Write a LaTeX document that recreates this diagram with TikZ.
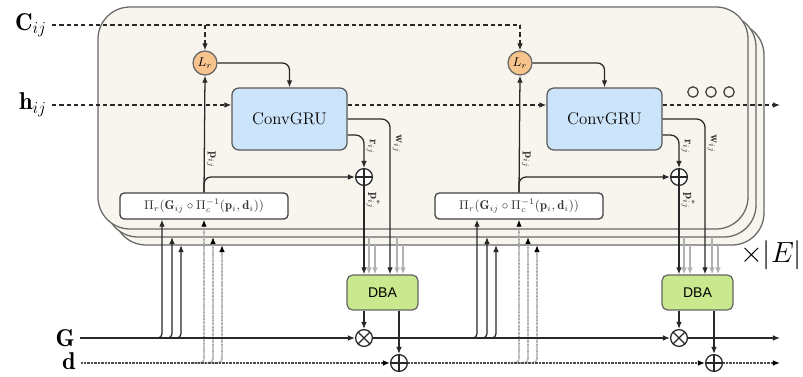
\documentclass[tikz,border=0pt]{standalone}
\usepackage{fontspec}
\usepackage{amsmath}
\usetikzlibrary{arrows.meta}
\newfontfamily\dbafont{Liberation Sans}
\definecolor{panelfill}{RGB}{247,245,237}
\definecolor{paneledge}{RGB}{105,105,105}
\definecolor{lrorange}{RGB}{248,196,142}
\definecolor{grublue}{RGB}{204,228,250}
\definecolor{dbagreen}{RGB}{202,232,142}
\definecolor{linedark}{RGB}{40,40,40}

\begin{document}
\begin{tikzpicture}[x=0.025cm,y=-0.025cm,line width=0.9pt,
  >={Latex[length=5pt,width=4pt]},
  wire/.style={draw=linedark,line width=0.9pt},
  dashwire/.style={wire,dash pattern=on 3pt off 2.2pt},
  dotwire/.style={draw=black!70,line width=1.3pt,dash pattern=on 0.6pt off 0.4pt},
  dbranch/.style={draw=black!35,line width=1.2pt,dash pattern=on 0.6pt off 0.4pt,
    -{Latex[length=5pt,width=4pt,color=black]},rounded corners=3pt},
  ghost/.style={draw=black!30,line width=0.8pt,->},
  panel/.style={draw=paneledge,fill=panelfill,line width=0.9pt,rounded corners=0.8cm},
  grubox/.style={draw=black!65,fill=grublue,rounded corners=5pt,minimum width=2.875cm,
    minimum height=1.55cm,font=\large},
  lrnode/.style={circle,draw=black!60,fill=lrorange,minimum size=0.6cm,inner sep=0pt,font=\small},
  projbox/.style={draw=black!75,fill=white,rounded corners=3pt,minimum width=4.2cm,
    minimum height=0.65cm,inner sep=1pt,font=\small,text=black!80},
  dbabox/.style={draw=black!60,fill=dbagreen,rounded corners=4pt,minimum width=1.775cm,
    minimum height=0.875cm,font=\dbafont},
  opnode/.style={circle,draw=linedark,fill=white,minimum size=0.42cm,inner sep=0pt},
  addop/.style={opnode,path picture={\draw[linedark]
    (path picture bounding box.north) -- (path picture bounding box.south)
    (path picture bounding box.west) -- (path picture bounding box.east);}},
  mulop/.style={opnode,path picture={\draw[linedark]
    (path picture bounding box.north west) -- (path picture bounding box.south east)
    (path picture bounding box.south west) -- (path picture bounding box.north east);}},
  edgelbl/.style={font=\small,rotate=-90,inner sep=1.5pt,anchor=south,text=black!80},
  dotc/.style={circle,draw=black!75,minimum size=0.26cm,inner sep=0pt}]
  \useasboundingbox (0,0) rectangle (803,376);

  % stacked edge panels
  \draw[panel] (114,23) rectangle (764,245);
  \draw[panel] (106,15) rectangle (756,237);
  \draw[panel] (98,7) rectangle (748,229);

  % inputs and outputs
  \node[anchor=east,font=\LARGE] (cij) at (52,25) {$\mathbf{C}_{ij}$};
  \node[anchor=east,font=\LARGE] (hij) at (52,105) {$\mathbf{h}_{ij}$};
  \node[anchor=east,font=\LARGE] (gin) at (80,338) {$\mathbf{G}$};
  \node[anchor=east,font=\LARGE] (din) at (81,361) {$\mathbf{d}$};
  \coordinate (hend) at (780,105);
  \coordinate (gend) at (780,338);
  \coordinate (dend) at (780,363);

  \foreach \i/\dx in {1/0,2/315}{
    \begin{scope}[shift={(\dx,0)}]
      \node[lrnode] (lr\i) at (205,63) {$L_r$};
      \node[grubox] (gru\i) at (289.5,119) {ConvGRU};
      \node[projbox] (proj\i) at (204,206)
        {$\Pi_r(\mathbf{G}_{ij}\circ\Pi_c^{-1}(\mathbf{p}_i,\mathbf{d}_i))$};
      \node[addop] (plus\i) at (364,177) {};
      \node[dbabox] (dba\i) at (382.5,292.5) {DBA};
      \node[mulop] (mul\i) at (364,338) {};
      \node[addop] (add\i) at (399,363) {};

      \draw[dashwire,->] (lr\i |- cij) -- (lr\i);
      \draw[wire,->,rounded corners=5pt] (lr\i) -| (gru\i.north);
      \draw[wire,->] (proj\i.north) -- node[edgelbl,pos=0.28] {$\mathbf{p}_{ij}$} (lr\i.south);
      \draw[wire,->,rounded corners=5pt] (proj\i.north) |- (plus\i.west);
      \draw[wire,->,rounded corners=6pt] ([yshift=-0.4cm]gru\i.east) -|
        node[edgelbl,pos=0.68] {$\mathbf{r}_{ij}$} (plus\i.north);
      \draw[wire,->,rounded corners=6pt] (gru\i.east) -|
        node[edgelbl,pos=0.58] {$\mathbf{w}_{ij}$} (390,0 |- dba\i.north);
      \draw[wire,->] (plus\i.south) --
        node[edgelbl,pos=0.17] {$\mathbf{p}^{*}_{ij}$} (plus\i.south |- dba\i.north);

      % the hidden edges behind
      \draw[ghost] (369,237) -- (369,0 |- dba\i.north);
      \draw[ghost] (375,245) -- (375,0 |- dba\i.north);
      \draw[ghost] (397,237) -- (397,0 |- dba\i.north);
      \draw[ghost] (403,245) -- (403,0 |- dba\i.north);

      \draw[wire,->] (mul\i |- dba\i.south) -- (mul\i);
      \draw[wire,->] (add\i |- dba\i.south) -- (add\i);

      % G and d into every edge
      \draw[wire,->,rounded corners=3pt] (151,338) -| (162,0 |- proj\i.south);
      \draw[wire,->,rounded corners=3pt] (160,338) -| (172,237);
      \draw[wire,->,rounded corners=3pt] (169,338) -| (181,245);
      \draw[dbranch] (193,363) -| (proj\i.south);
      \draw[dbranch] (201,363) -| (213,237);
      \draw[dbranch] (210,363) -| (222,245);
    \end{scope}
  }

  \draw[dashwire] (cij) -- (lr2 |- cij);
  \draw[dashwire,->] (hij) -- (gru1.west |- hij);
  \draw[dashwire,->] (gru1.east |- hij) -- (gru2.west |- hij);
  \draw[dashwire,->] (gru2.east |- hij) -- (hend);
  \node[dotc] (dot1) at (693,92) {};
  \node[dotc] (dot2) at (711,92) {};
  \node[dotc] (dot3) at (729,92) {};

  \draw[wire,->] (gin) -- (mul1);
  \draw[wire,->] (mul1) -- (mul2);
  \draw[wire,->] (mul2) -- (gend);
  \draw[dotwire,-{Latex[length=5pt,width=4pt,color=black]}] (din.east |- add1) -- (add1);
  \draw[dotwire,-{Latex[length=5pt,width=4pt,color=black]}] (add1) -- (add2);
  \draw[dotwire,-{Latex[length=5pt,width=4pt,color=black]}] (add2) -- (dend);

  \node[anchor=west,font=\huge] (ecount) at (735,255) {$\times|E|$};
\end{tikzpicture}
\end{document}
